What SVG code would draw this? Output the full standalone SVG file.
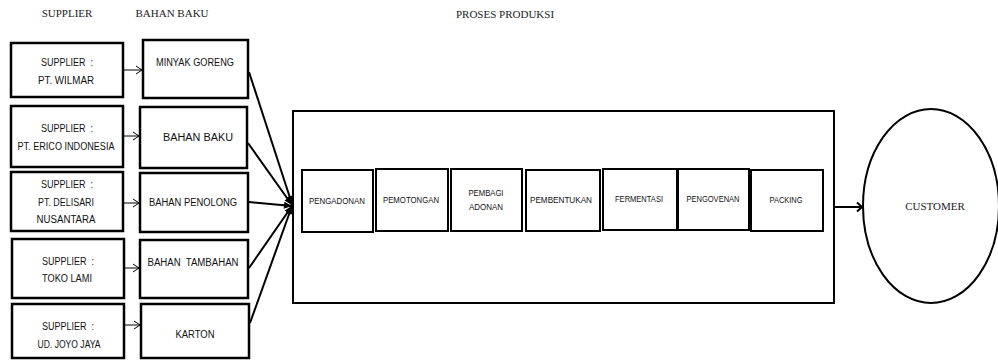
<svg xmlns="http://www.w3.org/2000/svg" width="998" height="362" viewBox="0 0 998 362">
<style>
.hdr{font-family:"Liberation Serif","Times New Roman",serif;font-size:11px;fill:#222;text-anchor:middle}
.box{fill:#fff;stroke:#000;stroke-width:2.5}
.step{fill:#fff;stroke:#000;stroke-width:2}
.t{font-family:"Liberation Sans",Arial,sans-serif;font-size:10px;fill:#111;text-anchor:middle;white-space:pre}
.ts{font-family:"Liberation Sans",Arial,sans-serif;font-size:9px;fill:#111;text-anchor:middle}
.thin{stroke:#000;stroke-width:1;fill:none}
.thick{stroke:#000;stroke-width:2;fill:none}
</style>
<defs>
<marker id="open" markerWidth="10" markerHeight="10" refX="9" refY="5" orient="auto" markerUnits="userSpaceOnUse">
<path d="M3,1 L9,5 L3,9" fill="none" stroke="#000" stroke-width="1"/>
</marker>
<marker id="fill" markerWidth="10" markerHeight="10" refX="9" refY="5" orient="auto" markerUnits="userSpaceOnUse">
<path d="M1,1.5 L9,5 L1,8.5 Z" fill="#000"/>
</marker>
<marker id="openbig" markerWidth="12" markerHeight="12" refX="10" refY="6" orient="auto" markerUnits="userSpaceOnUse">
<path d="M5,1.5 L10,6 L5,10.5" fill="none" stroke="#000" stroke-width="2"/>
</marker>
</defs>
<rect width="998" height="362" fill="#fff"/>
<g id="headers">
<text class="hdr" x="67" y="17">SUPPLIER</text>
<text class="hdr" x="172" y="17">BAHAN BAKU</text>
<text class="hdr" x="505" y="18">PROSES PRODUKSI</text>
</g>
<g id="sup1"><rect class="box" x="11" y="43" width="112" height="54"/><text class="t" x="67" y="66" textLength="52" lengthAdjust="spacingAndGlyphs" xml:space="preserve">SUPPLIER  :</text><text class="t" x="66" y="84" textLength="56" lengthAdjust="spacingAndGlyphs">PT. WILMAR</text></g>
<g id="sup2"><rect class="box" x="11" y="106" width="112" height="61"/><text class="t" x="67" y="132" textLength="52" lengthAdjust="spacingAndGlyphs" xml:space="preserve">SUPPLIER  :</text><text class="t" x="66" y="150" textLength="97" lengthAdjust="spacingAndGlyphs">PT. ERICO INDONESIA</text></g>
<g id="sup3"><rect class="box" x="11" y="172" width="112" height="59"/><text class="t" x="67" y="188" textLength="52" lengthAdjust="spacingAndGlyphs" xml:space="preserve">SUPPLIER  :</text><text class="t" x="66" y="206" textLength="56" lengthAdjust="spacingAndGlyphs">PT. DELISARI</text><text class="t" x="66" y="223" textLength="59" lengthAdjust="spacingAndGlyphs">NUSANTARA</text></g>
<g id="sup4"><rect class="box" x="12" y="239" width="112" height="59"/><text class="t" x="68" y="265" textLength="52" lengthAdjust="spacingAndGlyphs" xml:space="preserve">SUPPLIER  :</text><text class="t" x="67" y="282" textLength="50" lengthAdjust="spacingAndGlyphs">TOKO LAMI</text></g>
<g id="sup5"><rect class="box" x="12" y="304" width="112" height="54"/><text class="t" x="68" y="330" textLength="52" lengthAdjust="spacingAndGlyphs" xml:space="preserve">SUPPLIER  :</text><text class="t" x="69" y="348" textLength="63" lengthAdjust="spacingAndGlyphs">UD. JOYO JAYA</text></g>
<g id="bb1"><rect class="box" x="143" y="40" width="105" height="58"/><text class="t" x="195" y="66" textLength="78" lengthAdjust="spacingAndGlyphs">MINYAK GORENG</text></g>
<g id="bb2"><rect class="box" x="140" y="107" width="107" height="61"/><text class="t" x="198" y="141" textLength="70" lengthAdjust="spacingAndGlyphs">BAHAN BAKU</text></g>
<g id="bb3"><rect class="box" x="140" y="173" width="108" height="59"/><text class="t" x="193" y="206" textLength="88" lengthAdjust="spacingAndGlyphs">BAHAN PENOLONG</text></g>
<g id="bb4"><rect class="box" x="140" y="240" width="108" height="58"/><text class="t" x="193" y="266" textLength="91" lengthAdjust="spacingAndGlyphs" xml:space="preserve">BAHAN  TAMBAHAN</text></g>
<g id="bb5"><rect class="box" x="141" y="304" width="108" height="54"/><text class="t" x="195" y="338" textLength="39" lengthAdjust="spacingAndGlyphs">KARTON</text></g>
<g id="proses"><rect class="step" x="293" y="111" width="541" height="192"/></g>
<g id="s1"><rect class="step" x="302" y="170" width="71" height="62"/><text class="ts" x="337" y="204" textLength="56" lengthAdjust="spacingAndGlyphs">PENGADONAN</text></g>
<g id="s2"><rect class="step" x="376" y="169" width="72" height="62"/><text class="ts" x="411" y="203" textLength="56" lengthAdjust="spacingAndGlyphs">PEMOTONGAN</text></g>
<g id="s3"><rect class="step" x="451" y="169" width="71" height="62"/><text class="ts" x="486" y="196" textLength="35" lengthAdjust="spacingAndGlyphs">PEMBAGI</text><text class="ts" x="486" y="210" textLength="34" lengthAdjust="spacingAndGlyphs">ADONAN</text></g>
<g id="s4"><rect class="step" x="526" y="170" width="74" height="61"/><text class="ts" x="561" y="203" textLength="62" lengthAdjust="spacingAndGlyphs">PEMBENTUKAN</text></g>
<g id="s5"><rect class="step" x="603" y="169" width="74" height="61"/><text class="ts" x="639" y="202" textLength="48" lengthAdjust="spacingAndGlyphs">FERMENTASI</text></g>
<g id="s6"><rect class="step" x="678" y="169" width="71" height="61"/><text class="ts" x="713" y="202" textLength="53" lengthAdjust="spacingAndGlyphs">PENGOVENAN</text></g>
<g id="s7"><rect class="step" x="751" y="170" width="72" height="61"/><text class="ts" x="786" y="203" textLength="33" lengthAdjust="spacingAndGlyphs">PACKING</text></g>
<g id="customer"><ellipse cx="931" cy="206" rx="68" ry="97" fill="#fff" stroke="#000" stroke-width="2"/><text class="hdr" x="935" y="210">CUSTOMER</text></g>
<g id="connectors">
<line class="thin" x1="124" y1="70" x2="142" y2="70" marker-end="url(#open)"/>
<line class="thin" x1="124" y1="136" x2="139" y2="136" marker-end="url(#open)"/>
<line class="thin" x1="124" y1="203" x2="139" y2="203" marker-end="url(#open)"/>
<line class="thin" x1="125" y1="268" x2="139" y2="268" marker-end="url(#open)"/>
<line class="thin" x1="125" y1="325" x2="140" y2="325" marker-end="url(#open)"/>
<line class="thick" x1="249" y1="72" x2="292" y2="204" marker-end="url(#fill)"/>
<line class="thick" x1="248" y1="143" x2="292" y2="205" marker-end="url(#fill)"/>
<line class="thick" x1="249" y1="202" x2="292" y2="206" marker-end="url(#fill)"/>
<line class="thick" x1="249" y1="268" x2="292" y2="206" marker-end="url(#fill)"/>
<line class="thick" x1="250" y1="323" x2="292" y2="206" marker-end="url(#fill)"/>
<line class="thick" x1="835" y1="207" x2="862" y2="207" marker-end="url(#openbig)"/>
</g>
</svg>
